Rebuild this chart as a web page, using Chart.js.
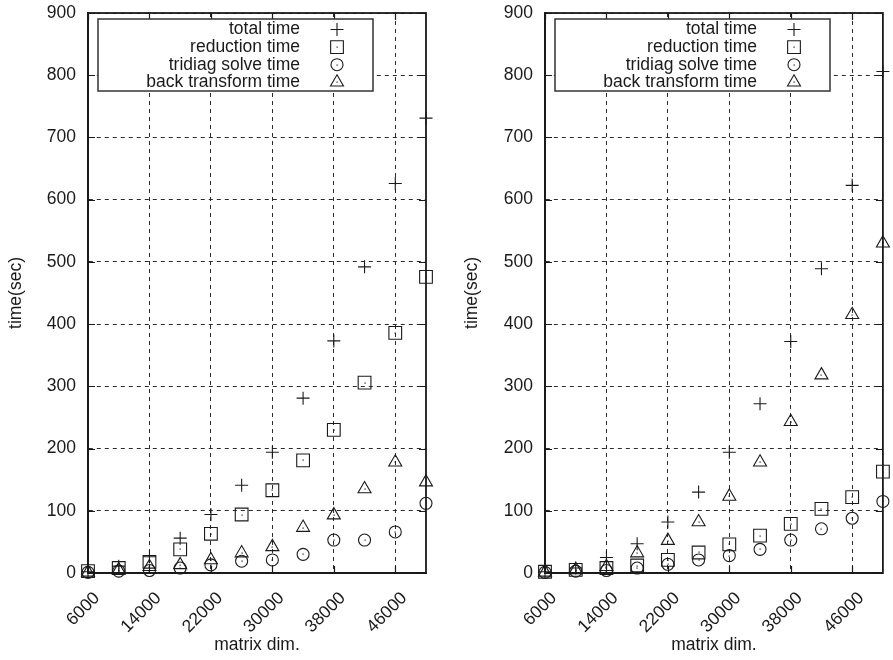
<!DOCTYPE html>
<html>
<head>
<meta charset="utf-8">
<script src="https://cdn.jsdelivr.net/npm/chart.js@4.4.0/dist/chart.umd.min.js"></script>
<style>
  html, body { margin: 0; padding: 0; background: #fff; }
  #wrap { position: relative; width: 893px; height: 660px; }
  .panel { position: absolute; top: 0; height: 660px; }
  #p1 { left: 0; width: 446px; }
  #p2 { left: 446px; width: 447px; }
</style>
</head>
<body>
<div id="wrap">
  <div class="panel" id="p1"><canvas id="c1"></canvas></div>
  <div class="panel" id="p2"><canvas id="c2"></canvas></div>
</div>
<script>
// Matrix dimensions measured
const matrixDims = [6000, 10000, 14000, 18000, 22000, 26000, 30000, 34000, 38000, 42000, 46000, 50000];
const xTickValues = [6000, 14000, 22000, 30000, 38000, 46000];
const yTickValues = [0, 100, 200, 300, 400, 500, 600, 700, 800, 900];
const seriesNames = ['total time', 'reduction time', 'tridiag solve time', 'back transform time'];

// First run (seconds)
const leftTotal     = [2, 11, 26, 56, 94, 141, 194, 281, 373, 492, 626, 731];
const leftReduction = [3, 8, 18, 38, 63, 94, 133, 181, 230, 306, 386, 476];
const leftTridiag   = [1, 3, 4, 8, 13, 19, 21, 30, 53, 53, 66, 112];
const leftBack      = [1, 5, 10, 13, 21, 32, 42, 73, 93, 135, 178, 146];

// Second run (seconds)
const rightTotal     = [2, 8, 25, 47, 82, 130, 194, 272, 372, 489, 623, 806];
const rightReduction = [2, 5, 8, 12, 21, 33, 46, 60, 79, 103, 122, 163];
const rightTridiag   = [1, 3, 4, 8, 14, 21, 28, 38, 53, 71, 88, 115];
const rightBack      = [1, 5, 10, 32, 52, 82, 123, 178, 243, 318, 415, 530];

const INK = '#1a1a1a';
const FONT = '"Liberation Sans", Arial, Helvetica, sans-serif';
const FONT_SIZE = 17.5;

// gnuplot-like open markers
const markerStyles = ['cross', 'rect', 'circle', 'triangle'];
const markerRadii = [6.5, 9, 6, 7.5];

// Centre dots inside the open markers
const dotPlugin = {
  id: 'centreDots',
  afterDatasetsDraw(chart) {
    const ctx = chart.ctx;
    ctx.save();
    ctx.fillStyle = INK;
    chart.data.datasets.forEach((ds, i) => {
      if (markerStyles[i] === 'cross') return;
      chart.getDatasetMeta(i).data.forEach(pt => {
        ctx.fillRect(Math.round(pt.x) - 0.5, Math.round(pt.y) - 0.5, 1.2, 1.2);
      });
    });
    ctx.restore();
  }
};

// Frame, mirrored inward ticks and boxed legend
const framePlugin = {
  id: 'gnuFrame',
  afterDraw(chart) {
    const ctx = chart.ctx;
    const a = chart.chartArea;
    const xs = chart.scales.x, ys = chart.scales.y;
    ctx.save();
    ctx.strokeStyle = INK;
    ctx.lineWidth = 1.2;
    ctx.beginPath();
    xs.ticks.forEach(t => {
      const px = Math.round(xs.getPixelForValue(t.value)) + 0.5;
      ctx.moveTo(px, a.bottom); ctx.lineTo(px, a.bottom - 7);
      ctx.moveTo(px, a.top); ctx.lineTo(px, a.top + 7);
    });
    ys.ticks.forEach(t => {
      const py = Math.round(ys.getPixelForValue(t.value)) + 0.5;
      ctx.moveTo(a.left, py); ctx.lineTo(a.left + 7, py);
      ctx.moveTo(a.right, py); ctx.lineTo(a.right - 7, py);
    });
    ctx.stroke();
    ctx.lineWidth = 1.8;
    ctx.strokeRect(a.left, a.top, a.right - a.left, a.bottom - a.top);

    // legend box
    const bx = a.left + 10, by = a.top + 6, bw = 275, bh = 72;
    ctx.fillStyle = '#fff';
    ctx.fillRect(bx, by, bw, bh);
    ctx.lineWidth = 1.5;
    ctx.strokeStyle = '#333';
    ctx.strokeRect(bx, by, bw, bh);
    ctx.font = FONT_SIZE + 'px ' + FONT;
    ctx.textAlign = 'right';
    ctx.textBaseline = 'middle';
    chart.data.datasets.forEach((ds, i) => {
      const ry = by + 10.5 + i * 17.6;
      ctx.fillStyle = INK;
      ctx.fillText(ds.label, bx + 202, ry);
      ctx.strokeStyle = INK;
      ctx.fillStyle = 'rgba(0,0,0,0)';
      ctx.lineWidth = 1.1;
      Chart.helpers.drawPoint(ctx, { pointStyle: markerStyles[i], radius: markerRadii[i], rotation: 0, borderWidth: 1.1 }, bx + 239, ry);
      if (markerStyles[i] !== 'cross') {
        ctx.fillStyle = INK;
        ctx.fillRect(Math.round(bx + 239) - 0.5, Math.round(ry) - 0.5, 1.2, 1.2);
      }
    });
    ctx.restore();
  }
};

function buildChart(id, series, geom) {
  return new Chart(document.getElementById(id), {
    type: 'scatter',
    data: {
      datasets: series.map((vals, i) => ({
        label: seriesNames[i],
        data: matrixDims.map((x, j) => ({ x: x, y: vals[j] })),
        pointStyle: markerStyles[i],
        pointRadius: markerRadii[i],
        pointHoverRadius: markerRadii[i],
        pointBorderWidth: 1.1,
        pointBorderColor: INK,
        pointBackgroundColor: 'rgba(0,0,0,0)',
        borderColor: INK,
        backgroundColor: 'rgba(0,0,0,0)',
        showLine: false,
        clip: false
      }))
    },
    options: {
      responsive: true,
      maintainAspectRatio: false,
      animation: false,
      events: [],
      layout: { padding: { left: 0, right: geom.padRight, top: 13, bottom: 0 } },
      plugins: { legend: { display: false }, tooltip: { enabled: false } },
      scales: {
        x: {
          type: 'linear',
          min: 6000,
          max: 50000,
          afterBuildTicks: s => { s.ticks = xTickValues.map(v => ({ value: v })); },
          afterFit: s => { s.height = 87; },
          grid: { color: '#2a2a2a', lineWidth: 1, drawTicks: false },
          border: { display: true, color: INK, width: 1.8, dash: [4, 4] },
          ticks: {
            autoSkip: false,
            minRotation: 45,
            maxRotation: 45,
            padding: 15,
            labelOffset: 9,
            color: INK,
            font: { family: FONT, size: FONT_SIZE },
            callback: v => String(v)
          },
          title: {
            display: true,
            text: 'matrix dim.',
            color: INK,
            font: { family: FONT, size: FONT_SIZE },
            padding: { top: 0, bottom: 4 }
          }
        },
        y: {
          min: 0,
          max: 900,
          afterBuildTicks: s => { s.ticks = yTickValues.map(v => ({ value: v })); },
          afterFit: s => { s.width = geom.yWidth; },
          // invisible tick marks keep the labels clear of the axis line
          grid: { color: '#2a2a2a', lineWidth: 1, drawTicks: true, tickLength: 12, tickColor: 'rgba(0,0,0,0)' },
          border: { display: true, color: INK, width: 1.8, dash: [4, 4] },
          ticks: {
            padding: 0,
            color: INK,
            font: { family: FONT, size: FONT_SIZE },
            callback: v => String(v)
          },
          title: {
            display: true,
            text: 'time(sec)',
            color: INK,
            font: { family: FONT, size: FONT_SIZE },
            padding: { top: geom.yTitlePad, bottom: 0 }
          }
        }
      }
    },
    plugins: [dotPlugin, framePlugin]
  });
}

buildChart('c1', [leftTotal, leftReduction, leftTridiag, leftBack], { yWidth: 88, padRight: 20, yTitlePad: 6 });
buildChart('c2', [rightTotal, rightReduction, rightTridiag, rightBack], { yWidth: 99, padRight: 10, yTitlePad: 16 });
</script>
</body>
</html>
